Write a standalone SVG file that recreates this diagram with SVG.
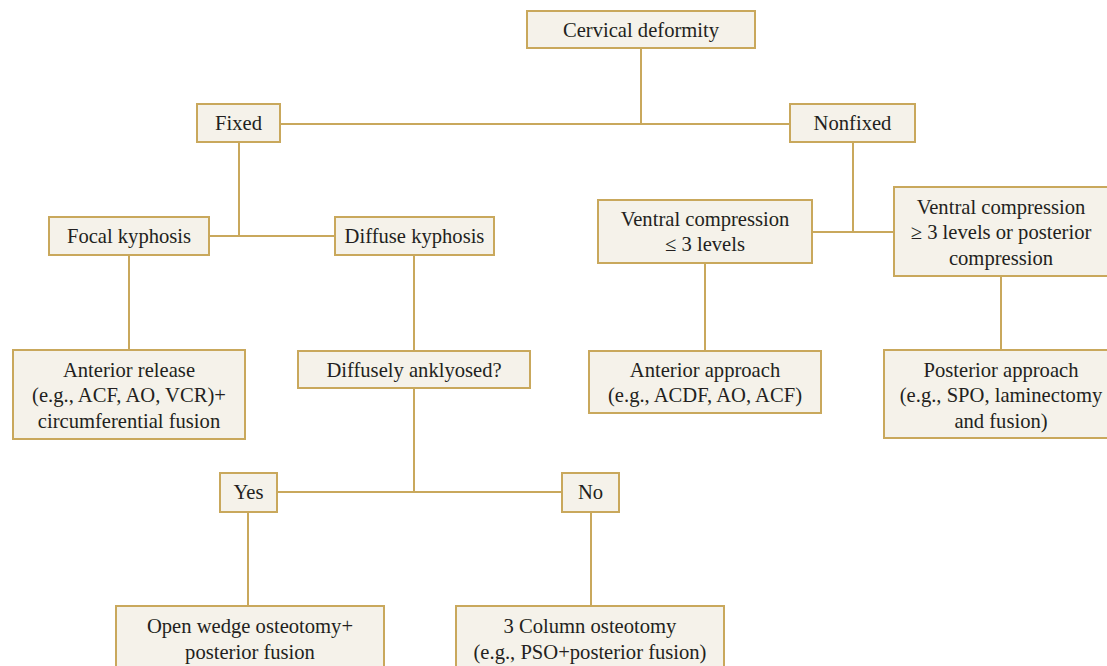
<svg xmlns="http://www.w3.org/2000/svg" width="1107" height="666" viewBox="0 0 1107 666">
<style>
.box{fill:#f5f2ea;stroke:#c9a85c;stroke-width:2}
.ln{stroke:#c9a85c;stroke-width:2;fill:none}
text{font-family:"Liberation Serif","Times New Roman",serif;font-size:20.6px;fill:#231f20;text-anchor:middle;dominant-baseline:central}
</style>
<rect width="1107" height="666" fill="#ffffff"/>
<g id="connectors">
<line class="ln" x1="641" y1="48" x2="641" y2="124"/>
<line class="ln" x1="280" y1="124" x2="790" y2="124"/>
<line class="ln" x1="239" y1="142" x2="239" y2="236"/>
<line class="ln" x1="209" y1="236" x2="335" y2="236"/>
<line class="ln" x1="129" y1="255" x2="129" y2="350"/>
<line class="ln" x1="414" y1="255" x2="414" y2="351"/>
<line class="ln" x1="853" y1="142" x2="853" y2="232"/>
<line class="ln" x1="812" y1="232" x2="894" y2="232"/>
<line class="ln" x1="705" y1="263" x2="705" y2="351"/>
<line class="ln" x1="1001" y1="276" x2="1001" y2="350"/>
<line class="ln" x1="414" y1="388" x2="414" y2="492"/>
<line class="ln" x1="277" y1="492" x2="562" y2="492"/>
<line class="ln" x1="248" y1="512" x2="248" y2="606"/>
<line class="ln" x1="591" y1="512" x2="591" y2="606"/>
</g>
<g id="cervical"><rect class="box" x="527" y="11" width="228" height="37"/><text x="641" y="30">Cervical deformity</text></g>
<g id="fixed"><rect class="box" x="197" y="104" width="83" height="38"/><text x="238.5" y="123">Fixed</text></g>
<g id="nonfixed"><rect class="box" x="790" y="104" width="125" height="38"/><text x="852.5" y="123">Nonfixed</text></g>
<g id="focal"><rect class="box" x="49" y="217" width="160" height="38"/><text x="129" y="236">Focal kyphosis</text></g>
<g id="diffuse"><rect class="box" x="335" y="217" width="159" height="38"/><text x="414.5" y="236">Diffuse kyphosis</text></g>
<g id="vc-le3"><rect class="box" x="598" y="200" width="214" height="63"/><text x="705" y="219">Ventral compression</text><text x="705" y="244">≤ 3 levels</text></g>
<g id="vc-ge3"><rect class="box" x="894" y="187" width="216" height="89"/><text x="1001" y="207">Ventral compression</text><text x="1001" y="232">≥ 3 levels or posterior</text><text x="1001" y="258">compression</text></g>
<g id="ant-release"><rect class="box" x="13" y="350" width="232" height="89"/><text x="129" y="370">Anterior release</text><text x="129" y="395">(e.g., ACF, AO, VCR)+</text><text x="129" y="421">circumferential fusion</text></g>
<g id="diffusely"><rect class="box" x="298" y="351" width="232" height="37"/><text x="414" y="370">Diffusely anklyosed?</text></g>
<g id="ant-approach"><rect class="box" x="589" y="351" width="232" height="62"/><text x="705" y="370">Anterior approach</text><text x="705" y="395">(e.g., ACDF, AO, ACF)</text></g>
<g id="post-approach"><rect class="box" x="884" y="350" width="234" height="88"/><text x="1001" y="370">Posterior approach</text><text x="1001" y="395">(e.g., SPO, laminectomy</text><text x="1001" y="421">and fusion)</text></g>
<g id="yes"><rect class="box" x="220" y="473" width="57" height="39"/><text x="248.5" y="492">Yes</text></g>
<g id="no"><rect class="box" x="562" y="473" width="57" height="39"/><text x="590.5" y="492">No</text></g>
<g id="open-wedge"><rect class="box" x="116" y="606" width="268" height="70"/><text x="250" y="626">Open wedge osteotomy+</text><text x="250" y="652">posterior fusion</text></g>
<g id="three-column"><rect class="box" x="456" y="606" width="268" height="70"/><text x="590" y="626">3 Column osteotomy</text><text x="590" y="652">(e.g., PSO+posterior fusion)</text></g>
</svg>
